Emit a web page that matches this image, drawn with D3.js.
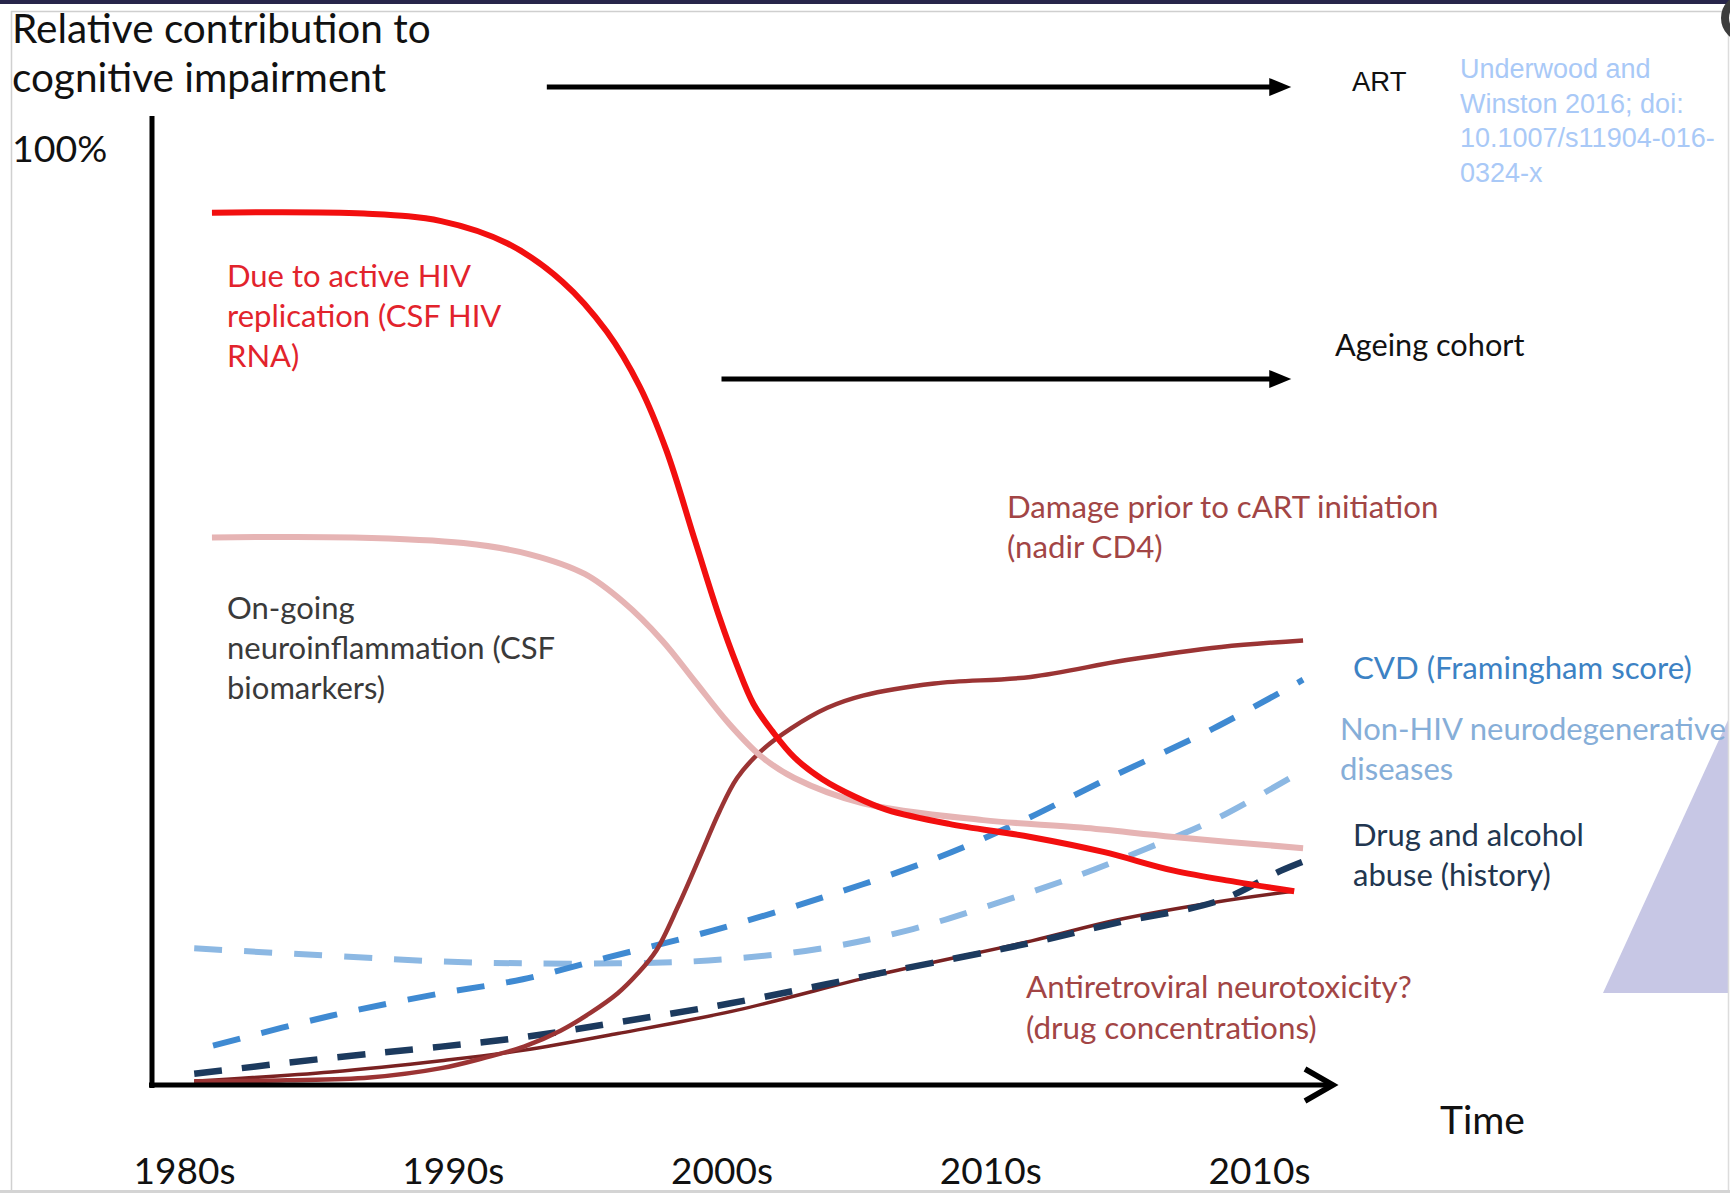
<!DOCTYPE html>
<html><head><meta charset="utf-8">
<script src="https://cdn.jsdelivr.net/npm/d3@7"></script>
<style>
html,body{margin:0;padding:0;background:#fff;}
svg{display:block;}
</style></head><body>
<svg id="chart" width="1730" height="1193"></svg>
<script>
// ---------- DATA ----------
const decadeTicks  = [1980, 1990, 2000, 2010, 2020];
const decadeLabels = ["1980s", "1990s", "2000s", "2010s", "2010s"];
const yTickValues  = [100];
const yTickLabels  = ["100%"];

// Due to active HIV replication (CSF HIV RNA)
const hivReplicationYears  = [1981.04,1986.70,1989.57,1992.04,1994.09,1995.73,1996.96,1997.95,1999.02,1999.92,2000.58,2001.19,2001.89,2002.71,2003.74,2004.97,2006.16,2008.46,2011.50,2014.21,2016.83,2019.13,2021.31];
const hivReplicationValues = [93.2,93.1,92.3,89.9,85.8,80.5,74.6,67.8,58.1,50.0,44.8,40.7,37.8,35.0,32.7,30.8,29.4,27.9,26.5,24.9,22.9,21.7,20.7];

// On-going neuroinflammation (CSF biomarkers)
const neuroinflammationYears  = [1981.04,1986.29,1990.40,1992.86,1994.91,1996.35,1997.79,1999.02,2000.25,2001.48,2002.71,2005.26,2009.73,2013.39,2016.83,2021.64];
const neuroinflammationValues = [58.5,58.5,57.9,56.7,54.6,51.6,47.5,43.1,38.7,35.1,32.8,30.1,28.3,27.5,26.5,25.3];

// Damage prior to cART initiation (nadir CD4)
const nadirDamageYears  = [1980.38,1983.83,1986.91,1989.57,1991.18,1992.65,1994.01,1995.12,1996.14,1996.88,1997.58,1998.40,1999.30,1999.92,2000.58,2001.48,2002.59,2003.94,2005.26,2007.92,2011.50,2015.07,2018.60,2021.64];
const nadirDamageValues = [0.4,0.5,0.8,1.8,2.9,4.1,5.8,7.7,9.8,11.9,14.4,19.2,25.1,29.2,32.8,35.7,38.1,40.3,41.6,42.9,43.6,45.4,46.8,47.5];

// Antiretroviral neurotoxicity? (drug concentrations)
const arvToxicityYears  = [1980.38,1985.47,1989.57,1992.61,1996.14,2000.58,2006.00,2011.54,2014.66,2018.31,2021.27];
const arvToxicityValues = [0.4,1.4,2.6,3.7,5.5,8.0,11.9,15.4,17.6,19.5,20.7];

// Drug and alcohol abuse (history)
const drugAlcoholYears  = [1980.38,1985.47,1989.57,1992.61,1996.14,2000.29,2006.00,2011.54,2014.66,2018.52,2020.82,2021.76];
const drugAlcoholValues = [1.2,2.9,4.1,5.1,6.7,8.7,12.0,15.2,17.3,19.7,22.9,24.0];

// CVD (Framingham score)
const cvdYears  = [1981.08,1985.47,1989.57,1992.61,1995.73,1999.67,2003.94,2008.05,2010.96,2014.21,2018.31,2021.64];
const cvdValues = [4.2,7.4,9.8,11.3,13.6,16.5,20.2,24.3,27.9,32.5,38.1,43.3];

// Non-HIV neurodegenerative diseases
const neurodegenYears  = [1980.38,1985.47,1989.57,1992.61,1996.14,1999.51,2003.53,2006.90,2010.10,2013.10,2015.85,2018.31,2021.64];
const neurodegenValues = [14.6,13.8,13.2,13.0,13.0,13.3,14.5,16.5,19.3,22.2,25.3,28.3,33.6];

// Time-span arrows
const spanLabels = ["ART", "Ageing cohort"];
const spanStarts = [1993.5, 2000.0];
const spanEnds   = [2021.2, 2021.2];

// Label texts
const labelHiv      = ["Due to active HIV", "replication (CSF HIV", "RNA)"];
const labelInflam   = ["On-going", "neuroinflammation (CSF", "biomarkers)"];
const labelNadir    = ["Damage prior to cART initiation", "(nadir CD4)"];
const labelCvd      = ["CVD (Framingham score)"];
const labelNeuro    = ["Non-HIV neurodegenerative", "diseases"];
const labelDrug     = ["Drug and alcohol", "abuse (history)"];
const labelArv      = ["Antiretroviral neurotoxicity?", "(drug concentrations)"];
const titleLines    = ["Relative contribution  to", "cognitive impairment"];
const xAxisTitle    = "Time";
const citationLines = ["Underwood and", "Winston 2016; doi:", "10.1007/s11904-016-", "0324-x"];

// ---------- DRAW ----------
const W = 1730, H = 1193;
const svg = d3.select("#chart");
const FONT = "Lato, 'Open Sans', sans-serif";

const x = d3.scaleLinear().domain([1980, 2020]).range([184, 1259]);
const y = d3.scaleLinear().domain([0, 100]).range([1085, 149]);

// top dark strip
svg.append("rect").attr("x", 0).attr("y", 0).attr("width", W).attr("height", 4).attr("fill", "#27254a");

// frame clip
svg.append("defs").append("clipPath").attr("id", "frame")
  .append("rect").attr("x", 11).attr("y", 11).attr("width", 1718).attr("height", 1180);
const g = svg.append("g").attr("clip-path", "url(#frame)");

// lavender triangle
g.append("path").attr("d", "M1603,993 L1729,718 L1729,993 Z").attr("fill", "#c7c7e5");

const zip = (xs, ys) => xs.map((v, i) => [v, ys[i]]);
const line = d3.line().x(d => x(d[0])).y(d => y(d[1])).curve(d3.curveCatmullRom.alpha(0.5));

const series = [
  {data: zip(neurodegenYears, neurodegenValues), color: "#8cb8e3", width: 6, dash: "28,22"},
  {data: zip(cvdYears, cvdValues), color: "#3f8ad2", width: 6, dash: "28,22"},
  {data: zip(arvToxicityYears, arvToxicityValues), color: "#7a2222", width: 3.5, dash: null},
  {data: zip(drugAlcoholYears, drugAlcoholValues), color: "#1c3a5e", width: 6.5, dash: "28,20"},
  {data: zip(nadirDamageYears, nadirDamageValues), color: "#9b3434", width: 4.5, dash: null},
  {data: zip(neuroinflammationYears, neuroinflammationValues), color: "#e6b4b4", width: 6, dash: null},
  {data: zip(hivReplicationYears, hivReplicationValues), color: "#f20f0f", width: 6, dash: null}
];
g.selectAll("path.series").data(series).enter().append("path")
  .attr("class", "series")
  .attr("d", d => line(d.data))
  .attr("fill", "none")
  .attr("stroke", d => d.color)
  .attr("stroke-width", d => d.width)
  .attr("stroke-dasharray", d => d.dash)
  .attr("stroke-linecap", "butt");

// axes
g.append("line").attr("x1", 152).attr("x2", 152).attr("y1", 116).attr("y2", 1088)
  .attr("stroke", "#000").attr("stroke-width", 5);
g.append("line").attr("x1", 149).attr("x2", 1332).attr("y1", 1085).attr("y2", 1085)
  .attr("stroke", "#000").attr("stroke-width", 5);
g.append("path").attr("d", "M1305,1069 L1333,1085 L1305,1101")
  .attr("fill", "none").attr("stroke", "#000").attr("stroke-width", 5.5).attr("stroke-linejoin", "miter");

const xAxis = d3.axisBottom(x).tickValues(decadeTicks).tickFormat((d, i) => decadeLabels[i]).tickSize(0);
const xg = svg.append("g").attr("transform", "translate(0,1085)").call(xAxis);
xg.select(".domain").remove();
xg.selectAll("text").attr("y", 99).attr("dy", null)
  .attr("font-family", FONT).attr("font-size", 37).attr("fill", "#111");

// y tick label
g.selectAll("text.ytick").data(yTickValues).enter().append("text")
  .attr("class", "ytick").attr("x", 12).attr("y", d => y(d) + 13)
  .attr("font-family", FONT).attr("font-size", 37.5).attr("fill", "#111")
  .text((d, i) => yTickLabels[i]);

// span arrows
const arrowY = [87, 379];
spanLabels.forEach((lab, i) => {
  const x0 = x(spanStarts[i]), x1 = x(spanEnds[i]), yy = arrowY[i];
  g.append("line").attr("x1", x0).attr("x2", x1 - 18).attr("y1", yy).attr("y2", yy)
    .attr("stroke", "#000").attr("stroke-width", 5);
  g.append("path").attr("d", `M${x1},${yy} L${x1 - 22},${yy - 9} L${x1 - 22},${yy + 9} Z`).attr("fill", "#000");
});
g.append("text").attr("x", 1352).attr("y", 91).attr("font-family", "'Liberation Sans', Arial, sans-serif")
  .attr("font-size", 27.5).attr("font-weight", 500).attr("fill", "#111").text(spanLabels[0]);
g.append("text").attr("x", 1335).attr("y", 356).attr("font-family", FONT)
  .attr("font-size", 30.7).attr("fill", "#111").text(spanLabels[1]);

// multi-line label helper
function label(lines, x0, y0, lh, color, size, family) {
  const t = g.append("text").attr("font-family", family || FONT).attr("font-size", size)
    .attr("fill", color);
  lines.forEach((s, i) => t.append("tspan").attr("x", x0).attr("y", y0 + i * lh).text(s));
}
label(titleLines, 12, 43, 49, "#111", 40.5);
label(labelHiv, 227, 287, 40, "#e2232c", 31);
label(labelInflam, 227, 619, 40, "#3a3a3a", 31);
label(labelNadir, 1007, 518, 40, "#a24545", 31.2);
label(labelCvd, 1353, 679, 40, "#3c82c4", 31.2);
label(labelNeuro, 1340, 740, 40, "#86aed8", 31);
label(labelDrug, 1353, 846, 40, "#22364f", 31);
label(labelArv, 1026, 998, 41, "#a24545", 31.4);
label([xAxisTitle], 1440, 1134, 40, "#111", 39);
label(citationLines, 1460, 78, 34.5, "#a9c9f7", 27, "'Liberation Sans', Arial, sans-serif");

// frame border
svg.append("line").attr("x1", 11).attr("x2", 1729).attr("y1", 11.5).attr("y2", 11.5).attr("stroke", "#cfcfcf").attr("stroke-width", 1.5);
svg.append("line").attr("x1", 11.5).attr("x2", 11.5).attr("y1", 11).attr("y2", 1191).attr("stroke", "#d0d0d0").attr("stroke-width", 1.5);
svg.append("line").attr("x1", 1728.5).attr("x2", 1728.5).attr("y1", 11).attr("y2", 1191).attr("stroke", "#dcdcdc").attr("stroke-width", 1.5);
svg.append("rect").attr("x", 0).attr("y", 1190).attr("width", W).attr("height", 3).attr("fill", "#d4d4d4");

// corner ring
svg.append("circle").attr("cx", 1745).attr("cy", 18).attr("r", 20)
  .attr("fill", "none").attr("stroke", "#3d3d3d").attr("stroke-width", 8);
</script>
</body></html>
